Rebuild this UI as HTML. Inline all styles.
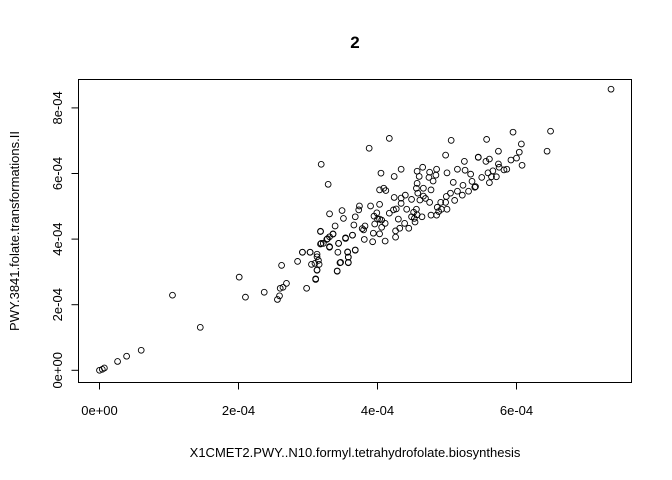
<!DOCTYPE html>
<html><head><meta charset="utf-8"><style>
body{margin:0;background:#fff}
svg{display:block;font-family:"Liberation Sans",Arial,sans-serif}
</style></head><body>
<svg id="chart" width="672" height="480">
<rect x="0" y="0" width="672" height="480" fill="#fff"/>
<text x="355" y="48" text-anchor="middle" font-size="17" font-weight="bold">2</text>
<rect x="78.5" y="79.5" width="553" height="303" fill="none" stroke="#000" stroke-width="1"/>
<g id="xaxis"></g>
<g id="yaxis"></g>
<g id="pts"></g>
<text x="355" y="457" text-anchor="middle" font-size="13">X1CMET2.PWY..N10.formyl.tetrahydrofolate.biosynthesis</text>
<text transform="translate(19,231) rotate(-90)" text-anchor="middle" font-size="13">PWY.3841.folate.transformations.II</text>
</svg>
<script>
const xTicks=[0,2e-4,4e-4,6e-4];
const xTickLabels=["0e+00","2e-04","4e-04","6e-04"];
const yTicks=[0,2e-4,4e-4,6e-4,8e-4];
const yTickLabels=["0e+00","2e-04","4e-04","6e-04","8e-04"];
// values in units of 1e-4
const xVals=[0,0.04,0.07,0.26,0.39,0.60,1.05,1.45,2.01,2.10,2.37,2.56,2.59,2.62,2.60,2.64,2.69,2.85,2.92,2.98,3.03,3.05,3.11,3.13,3.13,3.15,3.16,3.18,3.18,3.22,3.27,3.31,3.31,3.36,3.42,3.43,3.44,3.47,3.54,3.57,3.58,3.58,3.64,3.68,
4.17,5.06,3.88,3.19,4.98,5.45,3.29,4.05,4.24,4.34,4.57,4.65,4.75,4.85,4.84,4.74,4.80,4.60,4.57,5.00,5.09,5.15,5.25,5.26,5.34,5.36,5.41,5.23,5.31,5.15,5.22,5.05,5.11,4.99,4.98,4.91,4.86,4.92,5.00,4.88,4.77,4.85,4.75,4.69,4.66,4.77,4.66,4.56,4.58,4.61,4.49,4.40,4.34,4.24,4.34,4.23,4.27,4.42,4.52,4.56,4.57,4.53,4.49,4.64,4.54,4.30,4.39,4.32,4.45,4.26,4.11,4.06,4.06,4.03,3.99,4.00,4.03,3.95,3.90,3.94,3.93,3.81,3.80,3.78,3.66,3.64,3.68,3.54,3.51,3.49,3.68,3.73,3.74,3.39,3.31,3.36,3.18,3.28,3.19,3.31,3.44,3.57,3.58,3.58,3.46,3.42,3.13,3.10,3.13,3.03,2.92,3.11,4.03,3.96,3.82,4.11,4.26,4.17,4.03,4.12,4.09,
7.36,6.49,5.95,6.44,6.07,6.04,6.00,6.08,5.92,5.74,5.57,5.61,5.56,5.45,5.74,5.75,5.82,5.86,5.66,5.59,5.71,5.64,5.50,5.61,5.40];
const yVals=[0,0.03,0.07,0.27,0.43,0.61,2.29,1.31,2.84,2.23,2.38,2.16,2.27,3.20,2.50,2.53,2.65,3.32,3.60,2.50,3.60,3.23,2.77,3.05,3.54,3.35,3.23,3.85,4.23,3.87,3.99,3.75,4.07,4.15,3.02,3.60,3.87,3.29,4.02,3.60,3.45,3.29,4.12,3.66,
7.07,7.01,6.77,6.28,6.56,6.50,5.67,6.01,5.91,6.13,6.07,6.19,6.04,6.13,5.95,5.88,5.77,5.91,5.70,6.02,5.73,6.13,6.37,6.10,5.98,5.76,5.60,5.64,5.46,5.46,5.34,5.40,5.18,5.30,5.12,5.12,4.97,4.91,4.91,4.84,4.73,4.73,5.12,5.24,5.31,5.50,5.55,5.55,5.40,5.19,5.21,5.34,5.25,5.27,5.09,4.89,4.92,4.91,4.82,4.91,4.74,4.63,4.68,4.68,4.52,4.61,4.48,4.33,4.33,4.06,3.94,4.36,4.58,5.06,4.80,4.61,4.61,4.70,5.01,4.18,3.92,3.99,4.28,4.32,4.43,4.12,3.67,4.04,4.63,4.87,4.68,4.89,5.01,4.40,4.77,4.16,4.24,4.01,3.87,3.77,3.87,3.61,3.45,3.28,3.28,3.03,3.06,3.26,3.46,3.60,3.60,2.79,4.16,4.46,4.40,4.48,4.25,4.79,5.50,5.48,5.55,
8.57,7.29,7.26,6.68,6.90,6.65,6.47,6.25,6.41,6.68,7.04,6.44,6.37,6.49,6.29,6.19,6.11,6.13,6.08,6.02,5.90,5.90,5.88,5.72,5.58];
const NS="http://www.w3.org/2000/svg";
function sx(v){return 99.5+v*(139/2e-4);}
function sy(v){return 370.3-v*(65.6/2e-4);}
function mk(tag,attrs){const e=document.createElementNS(NS,tag);for(const k in attrs)e.setAttribute(k,attrs[k]);return e;}
const xa=document.getElementById('xaxis'),ya=document.getElementById('yaxis'),pg=document.getElementById('pts');
xa.appendChild(mk('line',{x1:sx(xTicks[0]),x2:sx(xTicks[xTicks.length-1]),y1:382.5,y2:382.5,stroke:'#000'}));
xTicks.forEach((t,i)=>{
  const l=mk('line',{x1:sx(t),x2:sx(t),y1:382.5,y2:389.5,stroke:'#000'});
  
  
  xa.appendChild(l);
  const tx=mk('text',{x:sx(t),y:415,'text-anchor':'middle','font-size':13});
  
  
  tx.textContent=xTickLabels[i];xa.appendChild(tx);
});
ya.appendChild(mk('line',{x1:78.5,x2:78.5,y1:sy(yTicks[0]),y2:sy(yTicks[yTicks.length-1]),stroke:'#000'}));
yTicks.forEach((t,i)=>{
  const l=mk('line',{x1:71.5,x2:78.5,y1:sy(t),y2:sy(t),stroke:'#000'});
  
  
  ya.appendChild(l);
  const tx=mk('text',{transform:`translate(62,${sy(t)}) rotate(-90)`,'text-anchor':'middle','font-size':13});
  
  
  tx.textContent=yTickLabels[i];ya.appendChild(tx);
});
for(let i=0;i<xVals.length;i++){
  const c=mk('circle',{cx:sx(xVals[i]*1e-4),cy:sy(yVals[i]*1e-4),r:2.9,fill:'none',stroke:'#000','stroke-width':0.9});
  
  
  pg.appendChild(c);
}
</script>
</body></html>
